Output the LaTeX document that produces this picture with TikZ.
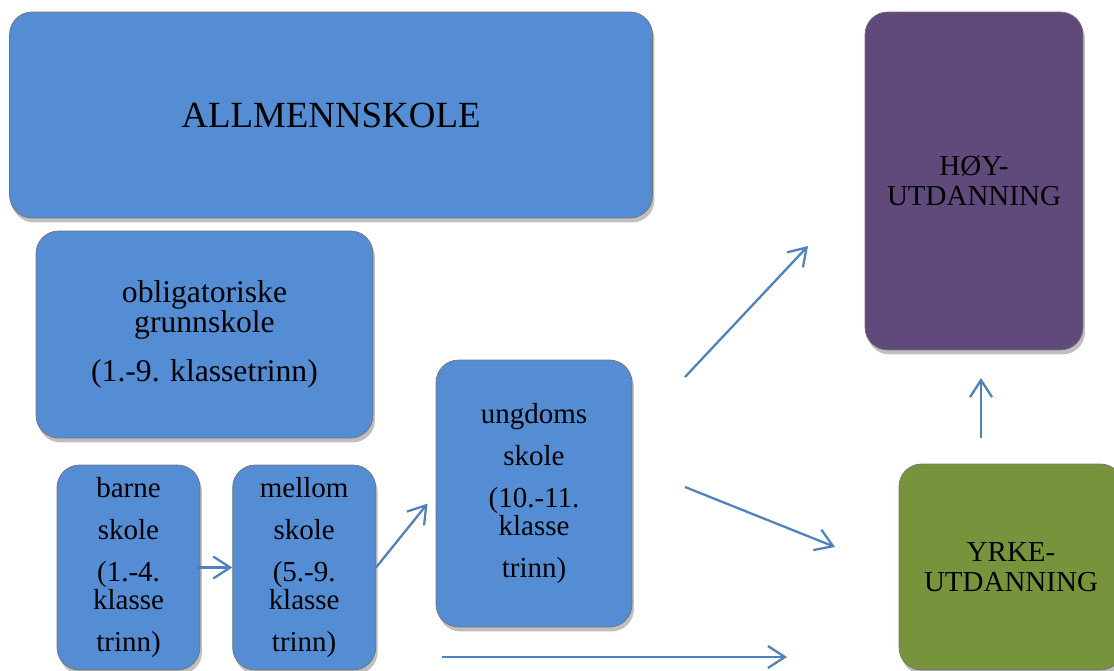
\documentclass[tikz,border=0pt]{standalone}
\usepackage{fontspec}
\setmainfont{Liberation Serif}
\usepackage{tikz}
\usetikzlibrary{arrows.meta, shadows, positioning}
\definecolor{boxBlue}{RGB}{84,141,212}
\definecolor{boxPurple}{RGB}{96,74,123}
\definecolor{boxGreen}{RGB}{119,147,60}
\definecolor{arrowBlue}{RGB}{79,129,189}
\tikzstyle{schoolBox} = [rectangle, rounded corners=0.45cm, draw=black!55, line width=0.4pt, fill=boxBlue, text=black, align=center, inner sep=0pt, drop shadow={shadow xshift=0.4mm, shadow yshift=-0.9mm, opacity=0.25, fill=black}]
\tikzstyle{smallText} = [font={\fontsize{16.5}{16}\selectfont}]
\tikzstyle{flowArrow} = [line width=1.3pt, draw=arrowBlue, -{Straight Barb[length=3.4mm, width=4.4mm]}]

\begin{document}
\begin{tikzpicture}[x=0.02cm, y=-0.02cm]
    \clip (0,0) rectangle (1114,671);
    \node (allmenn) [schoolBox, minimum width=12.86cm, minimum height=4.12cm, font={\fontsize{21}{24}\selectfont}] at (331,115) {ALLMENNSKOLE};
    \node (grunn) [schoolBox, minimum width=6.74cm, minimum height=4.14cm, font={\fontsize{18}{17}\selectfont}] at (204.5,334.5) {obligatoriske\\ grunnskole\\[11pt] (1.-9. klassetrinn)};
    \node (barne) [schoolBox, smallText, minimum width=2.86cm, minimum height=4.1cm] at (128.5,567.5) {barne\\[7.9pt] skole\\[7.9pt] (1.-4.\\ klasse\\[7.9pt] trinn)};
    \node (mellom) [schoolBox, smallText, minimum width=2.86cm, minimum height=4.1cm, right=0.64cm of barne] {mellom\\[7.9pt] skole\\[7.9pt] (5.-9.\\ klasse\\[7.9pt] trinn)};
    \node (ungdoms) [schoolBox, smallText, minimum width=3.92cm, minimum height=5.34cm] at (534,493.5) {ungdoms\\[7.9pt] skole\\[7.9pt] (10.-11.\\ klasse\\[7.9pt] trinn)};
    \node (hoy) [schoolBox, fill=boxPurple, font={\fontsize{16.5}{17}\selectfont}, minimum width=4.36cm, minimum height=6.76cm] at (974,181) {HØY-\\ UTDANNING};
    \node (yrke) [schoolBox, fill=boxGreen, font={\fontsize{16.5}{17}\selectfont}, minimum width=4.48cm, minimum height=4.12cm] at (1011,567) {YRKE-\\ UTDANNING};
    % free arrow ends
    \coordinate (hoyStart) at (685,377);
    \coordinate (hoyEnd) at (808,246);
    \coordinate (yrkeStart) at (685,487);
    \coordinate (yrkeEnd) at (835,547);
    \coordinate (bottomStart) at (442,657);
    \coordinate (bottomEnd) at (787,657);
    \coordinate (upStart) at (981,438);
    \coordinate (upEnd) at (981,378);
    \draw [flowArrow] ([xshift=-0.08cm]barne.east) -- (mellom.west);
    \draw [flowArrow, shorten >=0.26cm] (mellom.east) -- (ungdoms.west);
    \draw [flowArrow] (hoyStart) -- (hoyEnd);
    \draw [flowArrow] (yrkeStart) -- (yrkeEnd);
    \draw [flowArrow] (bottomStart) -- (bottomEnd);
    \draw [flowArrow] (upStart) -- (upEnd);
\end{tikzpicture}
\end{document}
